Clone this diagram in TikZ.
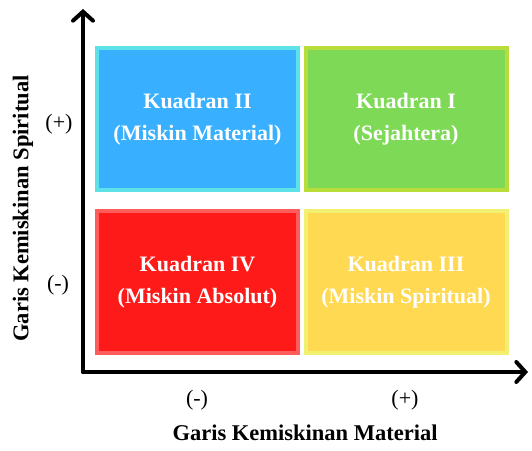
\documentclass[tikz,border=0pt]{standalone}
\usepackage{fontspec}
\setmainfont{Liberation Serif}
\usepackage{xcolor}
\usetikzlibrary{positioning,arrows.meta}

\definecolor{biru}{HTML}{38B0FF}
\definecolor{birutepi}{HTML}{5EE2E8}
\definecolor{hijau}{HTML}{7ED957}
\definecolor{hijautepi}{HTML}{B8DC3A}
\definecolor{merah}{HTML}{FF1A1A}
\definecolor{merahtepi}{HTML}{FF5C5C}
\definecolor{kuning}{HTML}{FFD952}
\definecolor{kuningtepi}{HTML}{F2F070}

\tikzset{
  kuadran/.style={draw, line width=4pt, minimum width=201pt, minimum height=142pt,
    text=white, font=\fontsize{22}{32}\selectfont\bfseries, align=center},
  sumbu/.style={line width=4pt, -{Straight Barb[length=9pt,width=20pt,line cap=round]}},
  tanda/.style={font=\fontsize{22}{26}\selectfont},
  judul/.style={font=\fontsize{22.5}{26}\selectfont\bfseries}
}

\begin{document}
\begin{tikzpicture}[x=1pt,y=1pt]
            \useasboundingbox (0,0) rectangle (532,450);
            % kuadran
            \node [kuadran, fill=biru, draw=birutepi] (k2) at (197.5,330.5) {Kuadran II\\(Miskin Material)};
            \node [kuadran, fill=hijau, draw=hijautepi] (k1) at (406,330.5) {Kuadran I\\(Sejahtera)};
            \node [kuadran, fill=merah, draw=merahtepi] (k4) at (197.5,168) {Kuadran IV\\(Miskin Absolut)};
            \node [kuadran, fill=kuning, draw=kuningtepi] (k3) at (406,168) {Kuadran III\\(Miskin Spiritual)};
            % sumbu
            \coordinate (o) at (83,78);
            \coordinate (atas) at (83,441);
            \coordinate (kanan) at (528,78);
            \draw [sumbu, line cap=round] (o)--(atas);
            \draw [sumbu, line cap=round] (o)--(kanan);
            % tanda
            \node [tanda] (yp) at (59,326) {(+)};
            \node [tanda] (ym) at (58,165) {(-)};
            \node [tanda] (xm) at (197,50) {(-)};
            \node [tanda] (xp) at (405,50) {(+)};
            % judul sumbu
            \node [judul, rotate=90] (jy) at (23,241.5) {Garis Kemiskinan Spiritual};
            \node [judul] (jx) at (305,17) {Garis Kemiskinan Material};
            \end{tikzpicture}
\end{document}
